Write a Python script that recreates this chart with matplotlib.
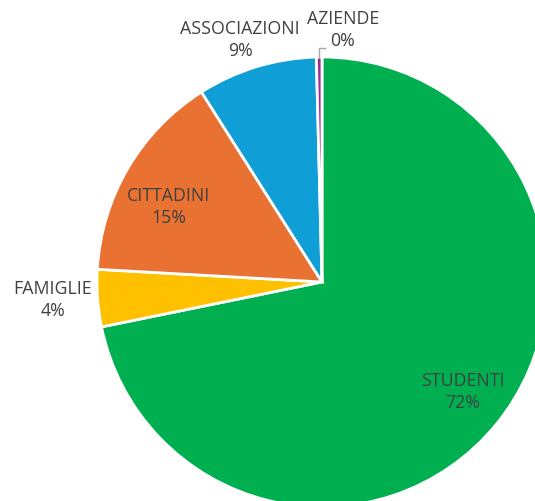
import matplotlib.pyplot as plt
import numpy as np

# Dati (percentuali)
categorie = ['STUDENTI', 'FAMIGLIE', 'CITTADINI', 'ASSOCIAZIONI', 'AZIENDE']
valori = [71.8, 4.1, 15.1, 8.6, 0.4]
colori = ['#00B050', '#FFC000', '#E97132', '#0F9ED5', '#A02B93']

# posizione delle etichette: angolo (gradi) e distanza dal centro (frazione del raggio)
ang_etichette = [-37.7, 183.6, 153.7, 108.6, 85.3]
dist_etichette = [0.79, 1.20, 0.76, 1.14, 1.13]

fig = plt.figure(figsize=(5.35, 5.02), dpi=100)
ax = fig.add_axes([0, 0, 1, 1])

centro = (322, 219)
raggio = 225

wedges, _ = ax.pie(valori, colors=colori, startangle=90, counterclock=False,
                   center=centro, radius=raggio, frame=True,
                   wedgeprops=dict(edgecolor='white', linewidth=2))
ax.set_xlim(0, 535)
ax.set_ylim(0, 502)
ax.set_aspect('equal')
ax.axis('off')

totale = sum(valori)
for w, nome, v, a, d in zip(wedges, categorie, valori, ang_etichette, dist_etichette):
    ang = np.deg2rad(a)
    x = centro[0] + d * raggio * np.cos(ang)
    y = centro[1] + d * raggio * np.sin(ang)
    ax.text(x, y, f'{nome}\n{round(v / totale * 100):.0f}%', ha='center', va='center',
            fontsize=12.8, color='#404040', family='Open Sans', linespacing=1.3)
    if nome == 'AZIENDE':
        # linea guida
        am = np.deg2rad((w.theta1 + w.theta2) / 2)
        x0 = centro[0] + raggio * np.cos(am)
        y0 = centro[1] + raggio * np.sin(am)
        ax.plot([x0, x0, x0 + 6], [y0, y0 + 9, y0 + 9], color='#A6A6A6', lw=1)

fig.savefig('out.png', dpi=100)
